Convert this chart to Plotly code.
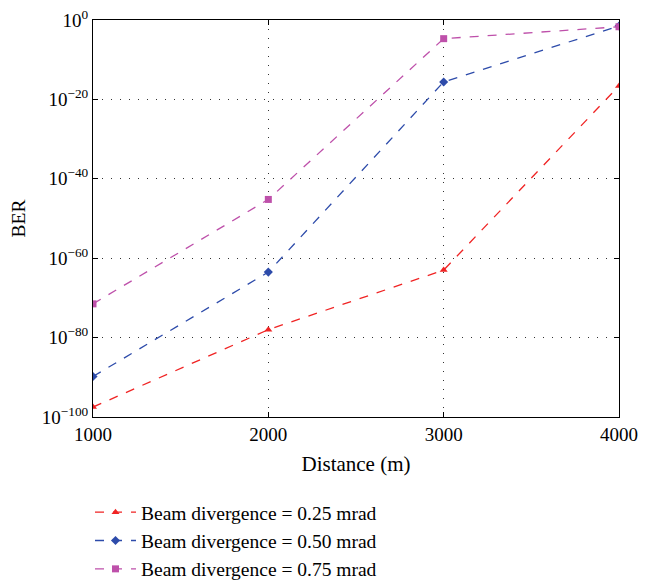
import plotly.graph_objects as go

distance = [1000, 2000, 3000, 4000]
ber_025_exp = [-97.5, -78, -63, -16.6]
ber_050_exp = [-89.8, -63.5, -15.6, -1.5]
ber_075_exp = [-71.5, -45.2, -4.7, -1.7]
names = ["Beam divergence = 0.25 mrad", "Beam divergence = 0.50 mrad", "Beam divergence = 0.75 mrad"]
colors = ["rgb(240,35,35)", "rgb(45,75,170)", "rgb(190,80,170)"]
symbols = ["triangle-up", "diamond", "square"]
tick_exps = [-100, -80, -60, -40, -20, 0]

FAMILY = "Liberation Serif, Times New Roman, serif"

fig = go.Figure()
for exps, name, c, s in zip([ber_025_exp, ber_050_exp, ber_075_exp], names, colors, symbols):
    fig.add_trace(go.Scatter(
        x=distance, y=[10.0 ** e for e in exps], name=name, mode="lines+markers",
        line=dict(color=c, width=1.3, dash="dash"),
        marker=dict(symbol=s, size=7, color=c),
    ))

fig.update_layout(
    width=653, height=582,
    margin=dict(l=85, r=42, t=12, b=173),
    paper_bgcolor="white", plot_bgcolor="white",
    font=dict(family=FAMILY, size=19, color="black"),
    legend=dict(x=-0.0057, y=0.1667, xanchor="left", yanchor="top", yref="container",
                font=dict(family=FAMILY, size=19.5, color="black"),
                bgcolor="rgba(0,0,0,0)", tracegroupgap=0, itemwidth=41),
    xaxis=dict(
        range=[1000, 4000], tickvals=distance, ticktext=[str(d) for d in distance],
        tickfont=dict(family=FAMILY, size=19, color="black"),
        title=dict(text="Distance (m)", standoff=12, font=dict(family=FAMILY, size=21, color="black")),
        automargin=False,
        showline=True, linecolor="black", linewidth=1, mirror="ticks",
        ticks="inside", ticklen=5, tickcolor="black",
        showgrid=True, gridcolor="#333", griddash="1px,8px", gridwidth=1, zeroline=False,
    ),
    yaxis=dict(
        type="log", range=[-100, 0],
        tickvals=[10.0 ** e for e in tick_exps],
        ticktext=["10<sup>%s</sup>" % (str(e).replace("-", "−")) for e in tick_exps],
        tickfont=dict(family=FAMILY, size=19, color="black"),
        ticklabeloverflow="allow",
        title=dict(text="BER", standoff=11, font=dict(family=FAMILY, size=19.5, color="black")),
        automargin=False,
        showline=True, linecolor="black", linewidth=1, mirror="ticks",
        ticks="inside", ticklen=5, tickcolor="black",
        showgrid=True, gridcolor="#333", griddash="1px,8px", gridwidth=1, zeroline=False,
    ),
)
fig.write_html("out.html")
